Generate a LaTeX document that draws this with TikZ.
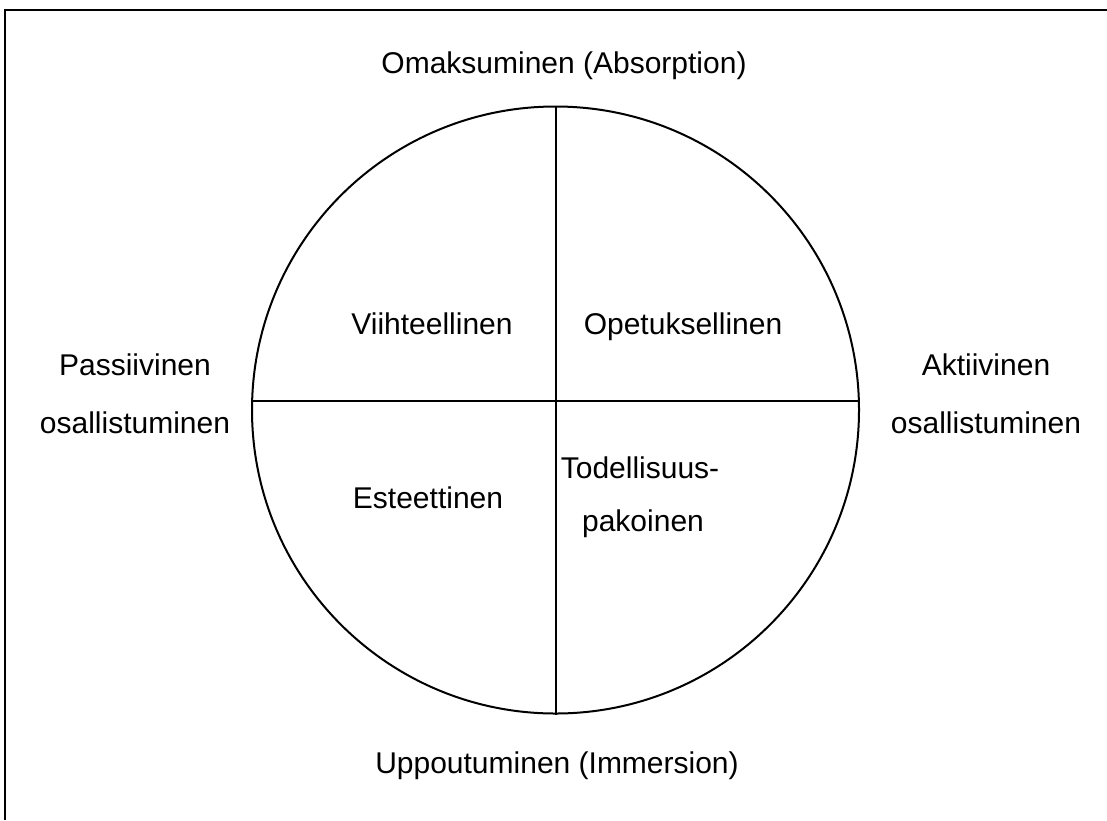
\documentclass[tikz,border=0pt]{standalone}
\usepackage{fontspec}
\setmainfont{Liberation Sans}
\begin{document}
\begin{tikzpicture}[x=1pt,y=-1pt,
  lbl/.style={anchor=base,inner sep=0pt,font=\fontsize{30}{36}\selectfont},
  rule/.style={line width=2pt,black},
  frame/.style={line width=2pt,black}]
\useasboundingbox (0,0) rectangle (1107,820);
% page frame (top and left edges)
\coordinate (fl) at (5,820);
\coordinate (ft) at (5,10);
\coordinate (fr) at (1107,10);
\draw[frame] (fl) -- (ft) -- (fr);
% circle and quadrant dividers
\node[circle,draw,line width=2pt,minimum size=607pt,inner sep=0pt] (c) at (555.5,410) {};
\coordinate (hl) at (252.1,401);
\coordinate (hr) at (858.9,401);
\draw[rule] (c.north) -- (c.south);
\draw[rule] (hl) -- (hr);
% axis labels
\node[lbl] (top) at (564,73) {Omaksuminen (Absorption)};
\node[lbl] (bot) at (557,773) {Uppoutuminen (Immersion)};
\node[lbl] (l1) at (135,375) {Passiivinen};
\node[lbl] (l2) at (135,433) {osallistuminen};
\node[lbl] (r1) at (986,375) {Aktiivinen};
\node[lbl] (r2) at (986,433) {osallistuminen};
% quadrant labels
\node[lbl] (q1) at (432,334) {Viihteellinen};
\node[lbl] (q2) at (683,334) {Opetuksellinen};
\node[lbl] (q3) at (428,508) {Esteettinen};
\node[lbl] (q4a) at (640,478) {Todellisuus-};
\node[lbl] (q4b) at (643,531) {pakoinen};
\end{tikzpicture}
\end{document}
